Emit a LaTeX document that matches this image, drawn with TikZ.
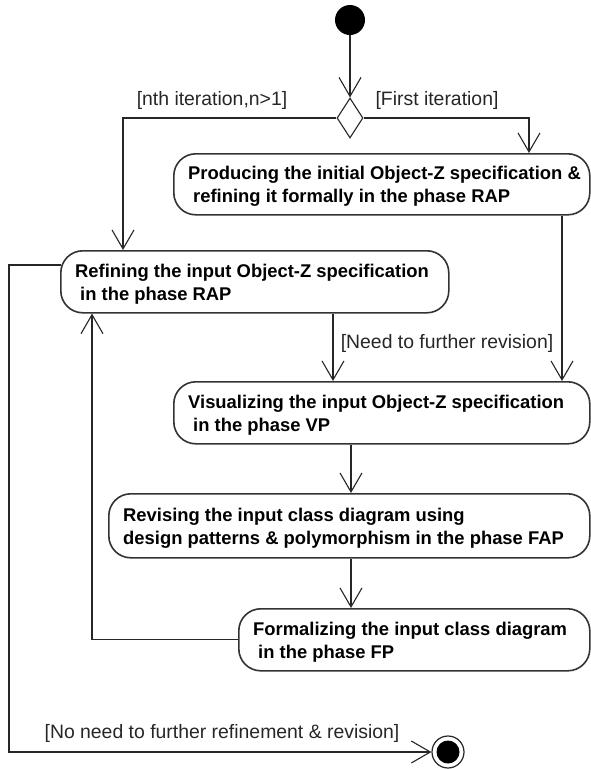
\documentclass[tikz,border=0pt]{standalone}
\usepackage{fontspec}
\setmainfont{Liberation Sans}
\usetikzlibrary{arrows.meta,shapes.geometric,calc}

\begin{document}
\begin{tikzpicture}[x=1pt,y=-1pt,
  flow/.style={draw=black!85, line width=1.1pt,
    -{Straight Barb[length=19pt,width=22pt,line width=1.1pt]}},
  act/.style={draw=black!80, line width=1.6pt, rounded corners=22pt,
    fill=white, inner sep=0pt, anchor=north west},
  acttext/.style={font=\fontsize{18.4}{23}\selectfont\bfseries,
    align=left, anchor=west, inner sep=0pt, text=black},
  guard/.style={font=\fontsize{19.4}{23}\selectfont, inner sep=0pt,
    text=black!85},
]
\useasboundingbox (0,0) rectangle (590,769);

% activity boxes
\node[act, minimum width=416pt, minimum height=61pt] (prod)   at (173,153) {};
\node[act, minimum width=388pt, minimum height=62pt] (refine) at (60,250)  {};
\node[act, minimum width=416pt, minimum height=62pt] (visual) at (173,381) {};
\node[act, minimum width=481pt, minimum height=64pt] (revise) at (108,493) {};
\node[act, minimum width=351pt, minimum height=62pt] (formal) at (238,608) {};

\node[acttext] (prodT) at ([xshift=15pt,yshift=-2pt]prod.west)
  {Producing the initial Object-Z specification \&\\\hspace*{5pt}refining it formally in the phase RAP};
\node[acttext] (refineT) at ([xshift=15pt,yshift=-2pt]refine.west)
  {Refining the input Object-Z specification\\\hspace*{5pt}in the phase RAP};
\node[acttext] (visualT) at ([xshift=15pt,yshift=-2pt]visual.west)
  {Visualizing the input Object-Z specification\\\hspace*{5pt}in the phase VP};
\node[acttext] (reviseT) at ([xshift=15pt,yshift=-2pt]revise.west)
  {Revising the input class diagram using\\design patterns \& polymorphism in the phase FAP};
\node[acttext] (formalT) at ([xshift=15pt,yshift=-2pt]formal.west)
  {Formalizing the input class diagram\\\hspace*{5pt}in the phase FP};

% initial, decision and final nodes
\node[circle, fill=black, minimum size=30pt, inner sep=0pt] (start) at (350,20) {};
\node[diamond, draw=black!85, line width=1.1pt, fill=white, minimum width=26pt,
  minimum height=40pt, inner sep=0pt] (dec) at (350,118) {};
\node[circle, draw=black!85, line width=1.2pt, minimum size=32pt, inner sep=0pt] (final) at (448,752) {};
\node[circle, fill=black, minimum size=23pt, inner sep=0pt] (finalDot) at (final) {};

% routing columns and rows
\coordinate (xL) at (123,0);
\coordinate (xR) at (529,0);
\coordinate (xP) at (562,0);
\coordinate (xQ) at (333,0);
\coordinate (xM) at (351,0);
\coordinate (xB) at (92,0);
\coordinate (loopL) at (9,265);

% transitions
\draw[flow] (start) -- (dec);
\draw[flow] (dec.west) -| (refine.north -| xL);
\draw[flow] (dec.east) -| (prod.north -| xR);
\draw[flow] (prod.south -| xP) -- (visual.north -| xP);
\draw[flow] (refine.south -| xQ) -- (visual.north -| xQ);
\draw[flow] (visual.south -| xM) -- (revise.north -| xM);
\draw[flow] (revise.south -| xM) -- (formal.north -| xM);
\draw[flow] (formal.west) -| (refine.south -| xB);
\draw[flow] ([xshift=1pt]refine.west |- loopL) -- (loopL) |- (final.west);

% guards
\node[guard] (gNth)   at (212,100) {[nth iteration,n>1]};
\node[guard] (gFirst) at (437,100) {[First iteration]};
\node[guard] (gNeed)  at (447,343) {[Need to further revision]};
\node[guard] (gNo)    at (222,733) {[No need to further refinement \& revision]};
\end{tikzpicture}
\end{document}
